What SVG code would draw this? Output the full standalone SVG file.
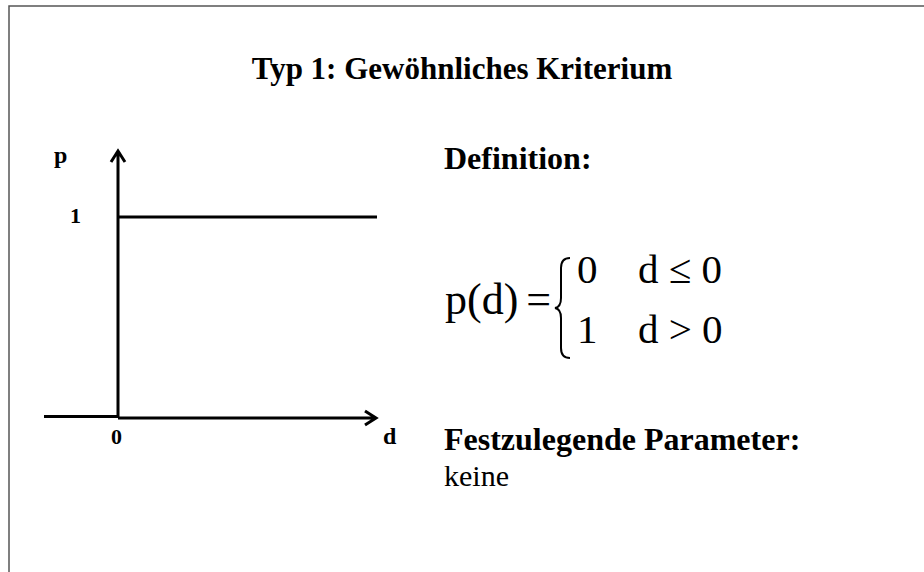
<svg xmlns="http://www.w3.org/2000/svg" width="924" height="572" viewBox="0 0 924 572">
<style>
.b{font-family:"Liberation Serif","Times New Roman",serif;font-weight:bold;fill:#000}
.r{font-family:"Liberation Serif","Times New Roman",serif;fill:#000}
.ax{stroke:#000;stroke-width:3;fill:none}
</style>
<rect width="924" height="572" fill="#fff"/>
<rect x="9" y="6" width="1000" height="1000" fill="none" stroke="#555" stroke-width="1.5"/>
<text class="b" x="462" y="79" font-size="31" text-anchor="middle">Typ 1: Gewöhnliches Kriterium</text>
<g id="graph">
<g id="axes">
<path class="ax" d="M118 418 V152 M111 162 L118 151 L125 162"/>
<path class="ax" d="M118 418 H375 M365 411 L376 418 L365 425"/>
<path class="ax" d="M44 416.5 H118"/>
<path class="ax" d="M118 217 H377"/>
</g>
<text class="b" x="54" y="163" font-size="24">p</text>
<text class="b" x="70" y="223" font-size="22">1</text>
<text class="b" x="111" y="444" font-size="22">0</text>
<text class="b" x="383" y="444" font-size="24">d</text>
</g>
<g id="definition">
<text class="b" x="444" y="169" font-size="32">Definition:</text>
<text class="r" x="445" y="314" font-size="44">p(d)<tspan dx="8">=</tspan></text>
<path d="M570 258 Q561 258 561 268 L561 298 Q561 307 555 308 Q561 309 561 318 L561 348 Q561 358 570 358" fill="none" stroke="#000" stroke-width="2"/>
<text class="r" x="577" y="283" font-size="41">0</text>
<text class="r" x="638" y="283" font-size="41">d ≤ 0</text>
<text class="r" x="577" y="343" font-size="41">1</text>
<text class="r" x="638" y="343" font-size="41">d &gt; 0</text>
</g>
<g id="parameters">
<text class="b" x="444" y="450" font-size="32">Festzulegende Parameter:</text>
<text class="r" x="444" y="486" font-size="30">keine</text>
</g>
</svg>
